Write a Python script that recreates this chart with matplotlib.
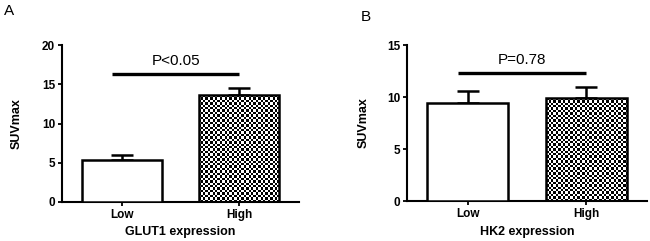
import numpy as np
import matplotlib
matplotlib.use("Agg")
import matplotlib.pyplot as plt

plt.rcParams['font.family'] = ['Liberation Sans', 'DejaVu Sans']

categories = ["Low", "High"]
a_means = [5.35, 13.65]
a_err = [0.62, 0.92]
a_yticks = [0, 5, 10, 15, 20]
a_p = "P<0.05"
a_bracket = 16.3
a_xlabel = "GLUT1 expression"

b_means = [9.47, 9.9]
b_err = [1.12, 1.03]
b_yticks = [0, 5, 10, 15]
b_p = "P=0.78"
b_bracket = 12.3
b_xlabel = "HK2 expression"

W, H = 650, 241
fig = plt.figure(figsize=(W / 100, H / 100), dpi=100)


def panel(rect, means, errs, yticks, ptext, bracket, xlabel, letter, letter_pos, ylpad):
    ax = fig.add_axes(rect)
    x = np.arange(len(categories))
    bars = ax.bar(x, means, width=0.68, facecolor='white', edgecolor='black',
                  linewidth=1.8, zorder=3)
    bars[1].set_facecolor('none')
    ax.errorbar(x, means, yerr=[np.zeros(len(errs)), errs], fmt='none',
                ecolor='black', elinewidth=1.8, capsize=8, capthick=1.8, zorder=2)
    # checkerboard texture for "High" bar
    bb = ax.get_position()
    wpx = bb.width * W
    hpx = bb.height * H
    cell = 2.4
    nx = int(round(wpx / cell))
    ny = int(round(hpx / cell))
    checker = (np.add.outer(np.arange(ny), np.arange(nx)) % 2).astype(float)
    im = ax.imshow(checker, cmap='gray', extent=(0, 1, 0, 1), transform=ax.transAxes,
                   aspect='auto', interpolation='nearest', zorder=2.5)
    im.set_clip_path(bars[1])
    ax.set_xlim(-0.51, 1.51)
    ax.set_ylim(0, yticks[-1])
    ax.set_yticks(yticks)
    ax.set_xticks(x)
    ax.set_xticklabels(categories)
    for s in ['top', 'right']:
        ax.spines[s].set_visible(False)
    for s in ['left', 'bottom']:
        ax.spines[s].set_linewidth(1.5)
    ax.tick_params(axis='both', length=3, width=1.3, labelsize=8.5, pad=2)
    for lab in ax.get_xticklabels() + ax.get_yticklabels():
        lab.set_fontweight('bold')
    ax.set_ylabel("SUVmax", fontsize=9, fontweight='bold', labelpad=ylpad)
    ax.set_xlabel(xlabel, fontsize=9, fontweight='bold', labelpad=4)
    ax.plot([x[0] - 0.08, x[1]], [bracket, bracket], color='black', lw=2.4,
            solid_capstyle='butt', clip_on=False)
    ax.text((x[0] - 0.08 + x[1]) / 2, bracket + 0.04 * yticks[-1], ptext,
            ha='center', va='bottom', fontsize=11)
    fig.text(letter_pos[0], letter_pos[1], letter, fontsize=11, ha='left', va='top')
    return ax


panel([62 / W, 1 - 202 / H, 237 / W, 157 / H], a_means, a_err, a_yticks, a_p,
      a_bracket, a_xlabel, "A", (4 / W, 1 - 4 / H), 14)
panel([407 / W, 1 - 201 / H, 240 / W, 156 / H], b_means, b_err, b_yticks, b_p,
      b_bracket, b_xlabel, "B", (361 / W, 1 - 10 / H), 12)

fig.savefig("out.png", dpi=100)
